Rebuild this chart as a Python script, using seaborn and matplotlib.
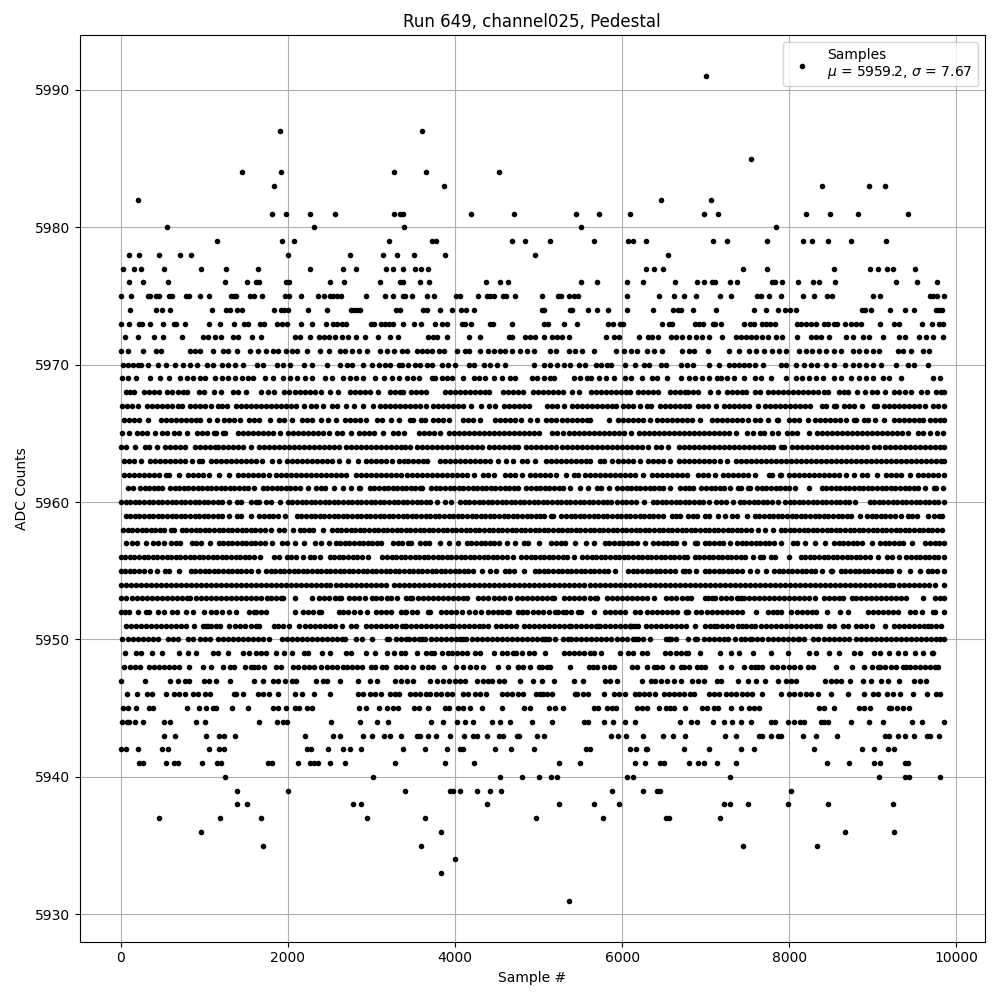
import matplotlib
matplotlib.use("Agg")
import matplotlib.pyplot as plt
import pandas as pd
import seaborn as sb

# sample positions per ADC level.
# in the solid rows single dots cant be told apart, those are estimates

adc_5991 = [7000]
adc_5987 = [1904, 3608]
adc_5985 = [7538]
adc_5984 = [1448, 1916, 3272, 3656, 4532]
adc_5983 = [1832, 3872, 8388, 8950, 9142]
adc_5982 = [212, 6460, 7060]
adc_5981 = [1808, 1976, 2264, 2564, 3272, 3344, 3380, 4196, 4712, 5443, 5718, 6090, 6975, 7143, 8196, 8483, 8818, 9417]
adc_5980 = [560, 2312, 3392, 5503, 7837]
adc_5979 = [1148, 1928, 2072, 3212, 3728, 3776, 4688, 4844, 5132, 5658, 6065, 6125, 6281, 7083, 7250, 7729, 8160, 8268, 8459, 8735, 9153]
adc_5978 = [104, 224, 464, 704, 836, 2000, 2744, 3140, 3308, 3512, 3884, 4952, 6544]
adc_5977 = [32, 164, 248, 524, 956, 1256, 1640, 2264, 2660, 2816, 3176, 3260, 3380, 3524, 3596, 3680, 6281, 6377, 6484, 7442, 7729, 8531, 8962, 9058, 9166, 9237, 9501]
adc_5976 = [104, 272, 572, 1244, 1508, 1616, 1652, 1976, 2012, 2504, 2672, 3104, 3344, 3380, 3584, 3692, 4376, 4544, 4640, 5504, 5696, 6056, 6248, 6632, 6896, 6980, 7076, 7112, 7292, 7376, 7796, 7832, 7916, 8108, 8288, 8360, 8552, 9272, 9524, 9764]
adc_5975 = [0, 128, 332, 356, 428, 464, 584, 620, 776, 812, 944, 1052, 1316, 1352, 1376, 1544, 1592, 1688, 1964, 2012, 2156, 2360, 2432, 2504, 2540, 2588, 2636, 2936, 3164, 3260, 3380, 3404, 3488, 3668, 3752, 4016, 4064, 4280, 4388, 4424, 4472, 4580, 4616, 4724, 5040, 5228, 5264, 5360, 5420, 5468, 6056, 6440, 6620, 6740, 6880, 7172, 7304, 7616, 7664, 7760, 7904, 8168, 8300, 8456, 8516, 9008, 9092, 9680, 9716, 9764, 9850]
adc_5974 = [116, 428, 500, 596, 1088, 1256, 1304, 1388, 1448, 1832, 1916, 1952, 2000, 2240, 2468, 2756, 2792, 2828, 2864, 3296, 3344, 3620, 3668, 3824, 3968, 4076, 4136, 4232, 5040, 5060, 5372, 5396, 5588, 5696, 5828, 6056, 6368, 6608, 6668, 6704, 6848, 7124, 7580, 7724, 7868, 7952, 8012, 8084, 8876, 8912, 8984, 9200, 9380, 9488, 9752, 9788, 9824]
adc_5973 = [8, 104, 224, 260, 356, 512, 632, 660, 764, 1052, 1184, 1352, 1472, 1520, 1664, 1712, 1868, 1928, 1988, 2156, 2288, 2456, 2540, 2588, 2648, 2696, 3000, 3032, 3116, 3164, 3212, 3260, 3380, 3512, 3596, 3764, 3848, 3908, 4088, 4124, 4196, 4424, 4460, 4688, 5060, 5108, 5300, 5456, 5828, 5888, 5972, 6008, 6476, 6560, 6596, 6872, 6920, 6968, 7088, 7112, 7184, 7460, 7532, 7580, 7676, 7724, 7772, 7832, 8096, 8144, 8204, 8264, 8324, 8420, 8468, 8540, 8576, 8672, 8744, 8804, 8864, 9092, 9248, 9308, 9584, 9704, 9788, 9836]
adc_5972 = [56, 208, 396, 508, 736, 988, 1048, 1128, 1200, 1348, 1408, 1568, 1676, 2080, 2148, 2260, 2368, 2428, 2488, 2568, 2648, 2716, 2816, 2920, 3076, 3228, 3316, 3682, 3734, 3790, 3910, 4162, 4294, 4642, 4682, 4842, 4902, 4962, 5062, 5162, 5222, 5282, 5362, 5802, 5902, 5962, 6202, 6310, 6362, 6430, 6582, 6642, 6722, 6797, 6889, 6957, 7037, 7197, 7357, 7417, 7477, 7537, 7597, 7677, 7745, 7837, 7917, 8089, 8257, 8317, 8377, 8477, 8677, 8757, 8877, 8957, 9117, 9317, 9385, 9557, 9637, 9717, 9837]
adc_5971 = [0, 88, 268, 428, 488, 828, 888, 948, 1108, 1228, 1288, 1388, 1548, 1648, 1740, 1828, 1888, 1980, 2048, 2108, 2228, 2388, 2488, 2628, 2688, 2768, 2848, 2948, 3108, 3188, 3268, 3362, 3422, 3542, 3602, 3662, 3722, 3814, 3870, 4022, 4122, 4162, 4302, 4390, 4462, 4542, 4602, 4682, 4782, 4862, 4942, 5142, 5214, 5362, 5442, 5522, 5662, 5922, 6022, 6102, 6182, 6294, 6382, 6482, 6722, 6797, 6857, 7025, 7277, 7397, 7517, 7597, 7697, 7797, 7877, 7957, 8117, 8197, 8277, 8357, 8437, 8537, 8617, 8757, 8837, 8917, 8997, 9077, 9297, 9357, 9457, 9597, 9677]
adc_5970 = [28, 88, 148, 208, 248, 328, 448, 548, 648, 748, 828, 908, 1028, 1108, 1208, 1288, 1368, 1468, 1628, 1708, 1868, 1948, 2028, 2188, 2288, 2468, 2628, 2708, 2768, 2896, 3008, 3088, 3168, 3228, 3328, 3362, 3442, 3522, 3582, 3662, 3722, 3842, 3922, 4002, 4162, 4222, 4342, 4422, 4502, 4602, 4942, 5062, 5142, 5222, 5302, 5382, 5482, 5562, 5682, 5742, 5822, 5870, 6030, 6154, 6262, 6322, 6462, 6522, 6710, 6774, 6849, 7037, 7157, 7277, 7337, 7397, 7457, 7517, 7585, 7685, 7897, 7957, 8085, 8177, 8257, 8337, 8437, 8537, 8669, 8757, 8837, 8917, 8997, 9097, 9277, 9417, 9497, 9665]
adc_5969 = [20, 88, 188, 356, 468, 580, 708, 788, 868, 948, 1008, 1128, 1208, 1288, 1368, 1448, 1528, 1588, 1728, 1828, 1948, 2028, 2108, 2208, 2288, 2448, 2528, 2656, 2748, 2820, 2896, 3048, 3148, 3248, 3328, 3422, 3494, 3574, 3722, 3762, 3842, 3902, 3962, 4102, 4222, 4282, 4362, 4462, 4562, 4662, 4722, 4922, 4982, 5070, 5142, 5190, 5422, 5502, 5582, 5622, 5722, 5802, 5902, 6030, 6102, 6242, 6362, 6422, 6542, 6702, 6797, 6877, 6957, 7037, 7137, 7185, 7257, 7337, 7457, 7585, 7657, 7777, 7965, 8077, 8157, 8237, 8317, 8409, 8537, 8617, 8737, 8837, 8917, 8997, 9117, 9197, 9337, 9717, 9809]
adc_5968 = [60, 110, 160, 280, 340, 400, 455, 560, 620, 680, 740, 795, 940, 995, 1120, 1195, 1340, 1400, 1495, 1680, 1760, 1835, 1960, 2020, 2080, 2140, 2200, 2260, 2320, 2395, 2500, 2595, 2740, 2800, 2860, 2920, 2980, 3075, 3220, 3280, 3340, 3375, 3475, 3535, 3595, 3650, 3875, 3935, 3995, 4055, 4115, 4175, 4235, 4295, 4355, 4410, 4575, 4635, 4695, 4755, 4810, 4935, 4995, 5055, 5115, 5175, 5235, 5290, 5395, 5490, 5625, 5685, 5745, 5805, 5865, 5925, 5985, 6045, 6090, 6195, 6255, 6315, 6375, 6430, 6575, 6635, 6695, 6755, 6790, 6850, 6905, 7055, 7145, 7250, 7310, 7370, 7430, 7485, 7590, 7645, 7750, 7810, 7870, 7930, 7990, 8050, 8110, 8170, 8230, 8290, 8350, 8410, 8465, 8590, 8650, 8705, 8810, 8905, 8990, 9050, 9145, 9255, 9315, 9385, 9457, 9575, 9645, 9760, 9820, 9850]
adc_5967 = [20, 80, 140, 205, 320, 380, 440, 500, 560, 620, 680, 735, 830, 890, 950, 1010, 1075, 1170, 1215, 1276, 1380, 1440, 1500, 1560, 1620, 1680, 1740, 1800, 1860, 1920, 1980, 2040, 2100, 2195, 2280, 2340, 2415, 2530, 2590, 2695, 2788, 2900, 3015, 3100, 3160, 3220, 3280, 3340, 3400, 3460, 3520, 3580, 3650, 3735, 3795, 3855, 3915, 3975, 4035, 4095, 4190, 4315, 4410, 4482, 4590, 4650, 4710, 4770, 4830, 4890, 5100, 5160, 5220, 5310, 5405, 5465, 5525, 5585, 5645, 5705, 5765, 5825, 5885, 5930, 6015, 6075, 6135, 6210, 6300, 6350, 6455, 6515, 6575, 6635, 6690, 6750, 6805, 6910, 6970, 7030, 7125, 7220, 7280, 7340, 7400, 7460, 7520, 7625, 7710, 7770, 7830, 7890, 7950, 8010, 8070, 8130, 8190, 8245, 8390, 8445, 8535, 8565, 8660, 8720, 8780, 8875, 9010, 9045, 9130, 9190, 9250, 9310, 9370, 9430, 9490, 9550, 9625, 9720, 9780, 9850]
adc_5966 = [40, 100, 160, 220, 325, 480, 540, 600, 660, 720, 780, 840, 900, 955, 1060, 1150, 1240, 1300, 1360, 1430, 1530, 1590, 1655, 1788, 1890, 1950, 2055, 2170, 2230, 2290, 2395, 2480, 2575, 2680, 2740, 2800, 2860, 2935, 3070, 3130, 3235, 3330, 3460, 3500, 3595, 3640, 3735, 3795, 3855, 3930, 4095, 4155, 4215, 4300, 4475, 4535, 4595, 4655, 4715, 4790, 4895, 4980, 5095, 5155, 5215, 5275, 5335, 5395, 5455, 5515, 5575, 5620, 5840, 5955, 6015, 6075, 6135, 6195, 6250, 6334, 6420, 6480, 6540, 6600, 6660, 6720, 6780, 6840, 6935, 7070, 7130, 7190, 7250, 7310, 7370, 7430, 7505, 7590, 7650, 7745, 7850, 7865, 8000, 8060, 8120, 8225, 8310, 8370, 8430, 8490, 8550, 8610, 8685, 8770, 8800, 8890, 8945, 9030, 9135, 9250, 9310, 9370, 9430, 9490, 9550, 9605, 9690, 9750, 9810, 9850]
adc_5965 = [10, 95, 200, 260, 320, 405, 500, 550, 640, 700, 795, 910, 970, 1035, 1120, 1135, 1220, 1250, 1400, 1460, 1520, 1580, 1640, 1700, 1760, 1820, 1905, 2000, 2060, 2120, 2180, 2240, 2300, 2360, 2420, 2495, 2590, 2650, 2755, 2850, 2910, 2970, 3030, 3135, 3260, 3320, 3385, 3575, 3635, 3695, 3755, 3820, 3925, 3985, 4045, 4105, 4165, 4225, 4285, 4345, 4405, 4465, 4525, 4585, 4645, 4705, 4765, 4825, 4885, 4945, 5010, 5165, 5225, 5290, 5365, 5425, 5485, 5545, 5605, 5665, 5725, 5785, 5845, 5905, 5965, 6025, 6110, 6205, 6265, 6325, 6385, 6445, 6505, 6565, 6625, 6685, 6745, 6805, 6865, 6925, 6985, 7045, 7105, 7165, 7225, 7285, 7365, 7500, 7565, 7650, 7695, 7790, 7865, 7970, 8030, 8090, 8235, 8330, 8390, 8450, 8510, 8570, 8630, 8690, 8750, 8810, 8870, 8930, 8990, 9050, 9110, 9170, 9230, 9290, 9350, 9425, 9540, 9600, 9685, 9765, 9840]
adc_5964 = [0, 60, 175, 285, 340, 436, 530, 590, 650, 710, 770, 885, 945, 1005, 1065, 1125, 1160, 1220, 1280, 1340, 1400, 1460, 1565, 1650, 1710, 1770, 1830, 1890, 1950, 2010, 2070, 2130, 2190, 2250, 2310, 2370, 2430, 2490, 2550, 2610, 2700, 2760, 2820, 2880, 2940, 3000, 3060, 3120, 3180, 3240, 3300, 3360, 3400, 3460, 3540, 3600, 3660, 3720, 3780, 3840, 3900, 3960, 4020, 4080, 4140, 4200, 4260, 4320, 4405, 4465, 4525, 4585, 4645, 4705, 4760, 4855, 4915, 4975, 5035, 5095, 5155, 5215, 5275, 5335, 5395, 5455, 5515, 5575, 5635, 5695, 5755, 5815, 5875, 5935, 5995, 6055, 6115, 6175, 6235, 6310, 6405, 6460, 6550, 6675, 6735, 6795, 6855, 6915, 6975, 7035, 7095, 7155, 7215, 7275, 7335, 7395, 7455, 7515, 7575, 7635, 7695, 7755, 7805, 7900, 7935, 8030, 8090, 8150, 8210, 8270, 8330, 8390, 8450, 8510, 8570, 8630, 8690, 8750, 8810, 8870, 8925, 9020, 9080, 9140, 9200, 9260, 9320, 9380, 9440, 9500, 9560, 9620, 9680, 9740, 9800, 9850]
adc_5963 = [40, 100, 160, 245, 350, 410, 470, 530, 590, 650, 710, 770, 855, 940, 975, 1080, 1140, 1200, 1260, 1320, 1380, 1440, 1500, 1560, 1620, 1695, 1810, 1895, 1990, 2050, 2110, 2170, 2230, 2290, 2350, 2410, 2470, 2530, 2615, 2716, 2836, 2940, 3000, 3060, 3120, 3180, 3245, 3330, 3390, 3435, 3495, 3555, 3615, 3670, 3820, 3880, 3940, 4000, 4060, 4120, 4180, 4240, 4300, 4360, 4420, 4510, 4615, 4690, 4805, 4865, 4960, 5085, 5145, 5205, 5265, 5325, 5385, 5445, 5505, 5565, 5620, 5735, 5780, 5885, 5945, 6005, 6065, 6125, 6210, 6315, 6375, 6435, 6495, 6570, 6675, 6735, 6795, 6855, 6915, 6975, 7035, 7095, 7170, 7257, 7360, 7420, 7480, 7540, 7600, 7660, 7720, 7780, 7840, 7900, 7960, 8020, 8080, 8140, 8200, 8260, 8320, 8380, 8440, 8500, 8560, 8620, 8680, 8740, 8800, 8860, 8920, 8980, 9040, 9100, 9160, 9220, 9280, 9340, 9400, 9460, 9520, 9580, 9640, 9700, 9760, 9820, 9850]
adc_5962 = [40, 100, 160, 220, 280, 340, 400, 455, 540, 575, 700, 800, 860, 920, 980, 1055, 1180, 1295, 1400, 1460, 1520, 1580, 1640, 1700, 1775, 1860, 1920, 1980, 2040, 2100, 2160, 2220, 2280, 2340, 2400, 2460, 2520, 2580, 2640, 2695, 2810, 2870, 2930, 2990, 3050, 3110, 3170, 3230, 3290, 3355, 3430, 3490, 3550, 3610, 3670, 3730, 3790, 3850, 3910, 3970, 4030, 4090, 4150, 4230, 4335, 4395, 4470, 4595, 4655, 4715, 4800, 4895, 4955, 5015, 5075, 5135, 5210, 5330, 5425, 5470, 5555, 5615, 5675, 5735, 5795, 5855, 5915, 5975, 6035, 6095, 6155, 6250, 6355, 6415, 6475, 6535, 6595, 6655, 6715, 6775, 6910, 6970, 7030, 7110, 7210, 7270, 7330, 7390, 7450, 7510, 7590, 7760, 7795, 7890, 7905, 8000, 8060, 8120, 8180, 8240, 8300, 8360, 8420, 8480, 8540, 8600, 8685, 8775, 8870, 8930, 9055, 9160, 9220, 9280, 9340, 9445, 9540, 9600, 9660, 9720, 9780, 9850]
adc_5961 = [88, 148, 228, 285, 340, 395, 450, 496, 588, 645, 700, 755, 810, 865, 920, 975, 1030, 1085, 1140, 1195, 1250, 1305, 1360, 1415, 1470, 1525, 1596, 1700, 1755, 1810, 1865, 1920, 1975, 2030, 2085, 2140, 2236, 2340, 2395, 2450, 2556, 2660, 2756, 2852, 2868, 2980, 3035, 3090, 3145, 3200, 3255, 3310, 3365, 3416, 3470, 3525, 3580, 3610, 3714, 3770, 3825, 3880, 3935, 3990, 4045, 4100, 4155, 4210, 4265, 4320, 4375, 4430, 4485, 4540, 4595, 4650, 4705, 4750, 4854, 4910, 4965, 5020, 5075, 5130, 5185, 5240, 5295, 5382, 5494, 5590, 5694, 5750, 5838, 5942, 6000, 6055, 6110, 6165, 6220, 6275, 6330, 6385, 6440, 6495, 6570, 6694, 6750, 6805, 6845, 6949, 7005, 7060, 7115, 7170, 7225, 7297, 7389, 7425, 7509, 7525, 7617, 7672, 7727, 7782, 7837, 7892, 7947, 8002, 8065, 8241, 8389, 8445, 8500, 8555, 8610, 8665, 8720, 8775, 8830, 8885, 8940, 8995, 9050, 9105, 9160, 9215, 9270, 9325, 9380, 9435, 9490, 9545, 9625, 9737, 9753, 9841]
adc_5960 = [0, 60, 115, 170, 225, 280, 335, 390, 445, 500, 555, 610, 665, 720, 775, 830, 885, 940, 995, 1050, 1105, 1160, 1215, 1296, 1388, 1445, 1556, 1620, 1656, 1740, 1796, 1908, 2000, 2055, 2110, 2165, 2220, 2275, 2330, 2385, 2440, 2495, 2550, 2605, 2660, 2715, 2770, 2825, 2880, 2935, 2990, 3045, 3100, 3155, 3210, 3265, 3320, 3375, 3430, 3485, 3540, 3595, 3650, 3705, 3782, 3886, 3958, 4062, 4117, 4172, 4227, 4282, 4337, 4392, 4447, 4502, 4557, 4612, 4667, 4722, 4777, 4832, 4887, 4942, 4997, 5052, 5107, 5162, 5217, 5272, 5327, 5382, 5437, 5492, 5547, 5602, 5657, 5712, 5767, 5822, 5862, 5942, 5997, 6052, 6107, 6162, 6262, 6366, 6421, 6476, 6531, 6586, 6641, 6696, 6751, 6806, 6861, 6916, 6971, 7045, 7129, 7184, 7239, 7325, 7409, 7464, 7519, 7574, 7629, 7684, 7739, 7794, 7865, 7949, 8004, 8059, 8114, 8169, 8224, 8279, 8334, 8389, 8444, 8499, 8554, 8609, 8664, 8719, 8785, 8961, 9016, 9071, 9126, 9181, 9236, 9291, 9346, 9401, 9456, 9511, 9566, 9621, 9676, 9731, 9786, 9850]
adc_5959 = [60, 115, 170, 225, 280, 335, 390, 445, 500, 555, 610, 665, 720, 775, 830, 885, 940, 995, 1050, 1105, 1160, 1215, 1296, 1388, 1445, 1556, 1660, 1715, 1770, 1825, 1880, 1968, 2108, 2163, 2218, 2273, 2328, 2383, 2438, 2493, 2548, 2603, 2658, 2713, 2768, 2823, 2878, 2933, 2988, 3043, 3098, 3153, 3208, 3263, 3318, 3373, 3428, 3483, 3538, 3593, 3648, 3703, 3758, 3813, 3868, 3923, 3978, 4033, 4088, 4143, 4198, 4253, 4308, 4363, 4418, 4473, 4528, 4583, 4638, 4693, 4748, 4803, 4858, 4913, 4968, 5023, 5070, 5154, 5170, 5274, 5329, 5384, 5439, 5494, 5549, 5604, 5659, 5714, 5769, 5824, 5879, 5934, 5989, 6044, 6099, 6154, 6209, 6264, 6319, 6374, 6429, 6490, 6594, 6650, 6697, 6789, 6845, 6897, 6989, 7045, 7145, 7233, 7321, 7377, 7497, 7589, 7644, 7699, 7754, 7809, 7864, 7919, 7974, 8029, 8084, 8139, 8194, 8249, 8304, 8359, 8414, 8469, 8524, 8579, 8634, 8689, 8744, 8845, 8929, 8985, 9040, 9095, 9150, 9205, 9260, 9337, 9417, 9472, 9527, 9657, 9737, 9792, 9833]
adc_5958 = [30, 85, 140, 195, 250, 305, 360, 415, 470, 524, 600, 636, 732, 787, 842, 897, 952, 1007, 1062, 1117, 1172, 1227, 1282, 1337, 1392, 1447, 1502, 1557, 1612, 1667, 1722, 1804, 1900, 1955, 2056, 2140, 2195, 2250, 2305, 2416, 2532, 2587, 2642, 2697, 2752, 2807, 2862, 2917, 2972, 3027, 3082, 3137, 3192, 3247, 3302, 3357, 3412, 3467, 3522, 3577, 3632, 3687, 3742, 3797, 3852, 3907, 3962, 4017, 4072, 4127, 4182, 4237, 4292, 4347, 4402, 4457, 4512, 4567, 4622, 4677, 4732, 4787, 4842, 4897, 4952, 5007, 5062, 5117, 5172, 5227, 5282, 5337, 5392, 5447, 5502, 5557, 5612, 5667, 5722, 5777, 5832, 5887, 5942, 5997, 6052, 6107, 6162, 6217, 6272, 6327, 6382, 6437, 6492, 6547, 6602, 6657, 6712, 6767, 6822, 6877, 6932, 6987, 7042, 7097, 7152, 7207, 7262, 7317, 7372, 7427, 7482, 7537, 7625, 7709, 7805, 7897, 7952, 8007, 8062, 8117, 8172, 8227, 8282, 8337, 8392, 8447, 8502, 8557, 8612, 8667, 8722, 8777, 8832, 8887, 8942, 8997, 9052, 9107, 9162, 9217, 9272, 9327, 9382, 9437, 9492, 9547, 9602, 9657, 9712, 9767, 9825]
adc_5957 = [68, 140, 195, 308, 388, 443, 516, 600, 656, 708, 852, 907, 962, 1068, 1172, 1227, 1282, 1337, 1392, 1447, 1502, 1557, 1612, 1667, 1722, 1816, 1932, 1996, 2088, 2196, 2320, 2396, 2488, 2572, 2627, 2682, 2737, 2792, 2847, 2902, 2957, 3012, 3067, 3116, 3260, 3315, 3370, 3436, 3478, 3582, 3637, 3692, 3822, 3926, 4038, 4142, 4197, 4252, 4307, 4362, 4417, 4472, 4527, 4622, 4714, 4822, 4877, 5010, 5154, 5209, 5264, 5319, 5442, 5566, 5662, 5794, 5849, 5904, 5959, 6014, 6069, 6124, 6179, 6270, 6374, 6429, 6484, 6539, 6594, 6649, 6742, 6869, 6897, 6989, 7044, 7099, 7154, 7209, 7297, 7377, 7432, 7487, 7542, 7597, 7652, 7707, 7762, 7817, 7897, 8041, 8096, 8193, 8309, 8433, 8537, 8592, 8647, 8702, 8757, 8812, 8867, 8985, 9089, 9144, 9199, 9254, 9309, 9365, 9465, 9629, 9684, 9739, 9794, 9850]
adc_5956 = [0, 55, 110, 165, 220, 275, 330, 385, 440, 495, 550, 605, 660, 715, 770, 825, 880, 935, 990, 1045, 1100, 1155, 1210, 1265, 1320, 1375, 1430, 1485, 1540, 1595, 1668, 1832, 1896, 1988, 2043, 2098, 2176, 2268, 2308, 2380, 2500, 2555, 2610, 2665, 2720, 2775, 2830, 2885, 2956, 3132, 3187, 3242, 3297, 3352, 3407, 3462, 3517, 3572, 3627, 3682, 3737, 3792, 3847, 3902, 3957, 4012, 4067, 4122, 4177, 4232, 4287, 4342, 4397, 4452, 4507, 4562, 4617, 4690, 4794, 4849, 4904, 4959, 5014, 5069, 5124, 5179, 5234, 5289, 5344, 5430, 5526, 5581, 5636, 5691, 5746, 5801, 5856, 5911, 5966, 6021, 6076, 6131, 6186, 6241, 6296, 6351, 6406, 6461, 6516, 6571, 6626, 6681, 6736, 6780, 6869, 6924, 6979, 7034, 7089, 7144, 7199, 7254, 7309, 7364, 7419, 7474, 7565, 7649, 7685, 7777, 7832, 7997, 8137, 8192, 8247, 8302, 8357, 8412, 8467, 8522, 8577, 8632, 8687, 8742, 8797, 8852, 8907, 8962, 9065, 9169, 9224, 9313, 9401, 9456, 9511, 9566, 9621, 9676, 9731, 9786, 9850]
adc_5955 = [0, 55, 110, 165, 220, 275, 356, 440, 528, 583, 696, 840, 895, 950, 1005, 1060, 1115, 1170, 1225, 1280, 1335, 1390, 1445, 1500, 1555, 1644, 1740, 1795, 1850, 1905, 1960, 2015, 2070, 2125, 2180, 2235, 2290, 2345, 2400, 2455, 2510, 2565, 2620, 2675, 2730, 2785, 2840, 2895, 2950, 3005, 3060, 3115, 3170, 3225, 3280, 3335, 3390, 3445, 3500, 3555, 3610, 3665, 3720, 3775, 3830, 3885, 3940, 3995, 4050, 4105, 4160, 4215, 4318, 4422, 4490, 4594, 4649, 4704, 4830, 4954, 5009, 5064, 5119, 5174, 5229, 5284, 5339, 5394, 5449, 5504, 5559, 5614, 5669, 5724, 5779, 5834, 5910, 6074, 6129, 6184, 6239, 6294, 6349, 6404, 6459, 6514, 6569, 6630, 6726, 6750, 6805, 6885, 6989, 7044, 7099, 7154, 7209, 7264, 7319, 7374, 7429, 7525, 7617, 7725, 7817, 7872, 7927, 7982, 8037, 8092, 8147, 8202, 8257, 8312, 8393, 8497, 8513, 8617, 8672, 8727, 8782, 8837, 8892, 8947, 9002, 9057, 9112, 9167, 9222, 9313, 9441, 9565, 9657, 9712, 9767, 9850]
adc_5954 = [0, 60, 120, 180, 240, 300, 360, 420, 480, 540, 600, 660, 720, 780, 840, 900, 960, 1020, 1080, 1140, 1200, 1260, 1320, 1380, 1440, 1500, 1560, 1620, 1680, 1740, 1800, 1860, 1920, 1980, 2040, 2100, 2160, 2220, 2280, 2340, 2400, 2460, 2510, 2580, 2640, 2700, 2760, 2820, 2880, 2940, 3000, 3060, 3120, 3180, 3270, 3330, 3390, 3450, 3510, 3570, 3630, 3690, 3750, 3810, 3870, 3930, 3990, 4050, 4110, 4170, 4230, 4290, 4350, 4410, 4470, 4530, 4590, 4650, 4710, 4770, 4830, 4890, 4950, 5010, 5070, 5130, 5190, 5250, 5310, 5370, 5430, 5490, 5550, 5610, 5670, 5730, 5790, 5850, 5910, 5970, 6030, 6090, 6150, 6210, 6270, 6330, 6390, 6450, 6510, 6570, 6630, 6690, 6750, 6810, 6870, 6930, 6990, 7050, 7110, 7170, 7230, 7290, 7350, 7410, 7470, 7530, 7590, 7650, 7710, 7770, 7830, 7890, 7950, 8010, 8070, 8130, 8190, 8250, 8310, 8370, 8430, 8490, 8550, 8610, 8670, 8730, 8790, 8850, 8910, 8970, 9030, 9090, 9150, 9210, 9240, 9310, 9370, 9430, 9490, 9550, 9610, 9670, 9740, 9850]
adc_5953 = [0, 68, 140, 196, 250, 310, 370, 430, 490, 550, 610, 670, 730, 790, 830, 900, 960, 1020, 1080, 1140, 1200, 1260, 1320, 1380, 1440, 1500, 1560, 1620, 1680, 1750, 1795, 1860, 1920, 1940, 2090, 2290, 2370, 2430, 2490, 2560, 2610, 2640, 2730, 2790, 2850, 2920, 3010, 3050, 3120, 3190, 3240, 3310, 3420, 3460, 3490, 3560, 3620, 3680, 3740, 3800, 3860, 3920, 3980, 4040, 4100, 4150, 4280, 4340, 4400, 4470, 4530, 4590, 4660, 4740, 4800, 4860, 4920, 4980, 5040, 5100, 5160, 5190, 5310, 5370, 5430, 5490, 5550, 5610, 5670, 5700, 5820, 5880, 5940, 6000, 6060, 6120, 6180, 6240, 6300, 6380, 6530, 6590, 6650, 6720, 6780, 6830, 6990, 7030, 7080, 7110, 7180, 7240, 7300, 7370, 7390, 7420, 7460, 7520, 7580, 7640, 7700, 7760, 7820, 7880, 7940, 8000, 8060, 8120, 8180, 8240, 8310, 8410, 8470, 8530, 8590, 8640, 8750, 8800, 8860, 8920, 8980, 9040, 9100, 9160, 9220, 9280, 9340, 9400, 9600, 9740, 9800, 9850]
adc_5952 = [0, 50, 100, 210, 300, 340, 450, 520, 610, 670, 780, 860, 1000, 1080, 1140, 1210, 1300, 1380, 1540, 1590, 1620, 1680, 1740, 2080, 2180, 2240, 2300, 2370, 2400, 2610, 2660, 2720, 2790, 2860, 2950, 3050, 3110, 3170, 3240, 3350, 3400, 3420, 3480, 3540, 3700, 3672, 3830, 3890, 3950, 4010, 4080, 4170, 4240, 4310, 4400, 4450, 4510, 4560, 4620, 4650, 4750, 4800, 4820, 4860, 4930, 4990, 5050, 5120, 5200, 5230, 5290, 5330, 5390, 5470, 5510, 5660, 5790, 5860, 5920, 5980, 6040, 6150, 6210, 6300, 6360, 6420, 6480, 6540, 6600, 6660, 6770, 6760, 6790, 6890, 6950, 7010, 7070, 7130, 7190, 7250, 7310, 7370, 7440, 7600, 7740, 7800, 7850, 7900, 8020, 8090, 8150, 8210, 8270, 8320, 8450, 8610, 8700, 8940, 9000, 9060, 9120, 9180, 9240, 9300, 9450, 9510, 9590, 9720, 9750, 9850]
adc_5951 = [60, 120, 180, 240, 300, 360, 420, 480, 540, 600, 660, 720, 780, 880, 980, 1020, 1040, 1080, 1140, 1190, 1300, 1370, 1430, 1490, 1560, 1620, 1660, 1830, 1880, 1940, 2020, 2130, 2210, 2270, 2330, 2390, 2450, 2510, 2570, 2650, 2750, 2820, 2930, 2990, 3050, 3110, 3170, 3230, 3290, 3370, 3400, 3420, 3470, 3530, 3590, 3650, 3710, 3770, 3830, 3890, 3950, 3990, 4050, 4110, 4170, 4230, 4290, 4340, 4400, 4490, 4550, 4610, 4670, 4730, 4830, 4880, 4950, 5010, 5070, 5130, 5190, 5250, 5310, 5360, 5390, 5450, 5510, 5570, 5630, 5690, 5710, 5740, 5790, 5850, 5910, 5970, 6030, 6090, 6100, 6150, 6120, 6190, 6280, 6350, 6410, 6470, 6530, 6590, 6650, 6710, 6770, 6870, 6990, 7050, 7100, 7140, 7200, 7260, 7320, 7390, 7435, 7480, 7540, 7590, 7660, 7720, 7780, 7840, 7900, 7960, 8020, 8080, 8140, 8200, 8260, 8320, 8370, 8470, 8530, 8640, 8700, 8800, 8860, 8920, 8990, 9140, 9250, 9310, 9370, 9430, 9490, 9550, 9610, 9660, 9700, 9760, 9820]
adc_5950 = [10, 90, 150, 210, 270, 330, 390, 450, 570, 630, 690, 810, 870, 950, 1010, 1070, 1160, 1220, 1280, 1340, 1400, 1460, 1520, 1580, 1640, 1700, 1770, 1930, 1990, 2050, 2110, 2170, 2230, 2290, 2350, 2410, 2470, 2530, 2590, 2650, 2690, 2810, 2890, 3010, 3190, 3210, 3290, 3350, 3420, 3450, 3510, 3570, 3610, 3640, 3710, 3770, 3830, 3890, 3950, 4010, 4060, 4100, 4130, 4200, 4260, 4320, 4380, 4440, 4500, 4560, 4620, 4680, 4740, 4800, 4860, 4920, 4980, 5040, 5065, 5090, 5130, 5200, 5295, 5350, 5390, 5450, 5510, 5570, 5630, 5690, 5750, 5810, 5870, 5940, 6000, 6060, 6130, 6160, 6190, 6250, 6330, 6520, 6560, 6590, 6650, 6560, 6790, 6870, 6900, 6980, 7040, 7100, 7160, 7220, 7270, 7350, 7420, 7470, 7560, 7620, 7680, 7530, 7740, 7800, 7860, 7920, 7980, 8040, 8100, 8120, 8180, 8280, 8350, 8410, 8470, 8530, 8590, 8650, 8710, 8800, 8860, 8920, 8980, 9040, 9100, 9160, 9220, 9280, 9340, 9400, 9460, 9520, 9580, 9640, 9700, 9760, 9800, 9850]
adc_5949 = [50, 180, 240, 370, 490, 700, 800, 900, 1110, 1160, 1280, 1460, 1530, 1620, 1680, 1740, 1860, 1960, 2048, 2190, 2240, 2410, 2510, 2700, 2760, 2930, 3040, 3190, 3270, 3350, 3405, 3550, 3654, 3710, 3745, 3850, 3920, 3970, 4030, 4085, 4150, 4240, 4300, 4470, 4560, 4620, 4695, 4730, 4800, 4880, 4950, 5080, 5310, 5370, 5430, 5490, 5540, 5620, 5660, 5750, 5970, 6070, 6130, 6240, 6300, 6510, 6570, 6640, 6700, 6760, 6790, 6930, 7170, 7300, 7400, 7570, 7780, 7990, 8240, 8320, 8480, 8600, 8780, 8850, 9010, 9090, 9190, 9300, 9390, 9500, 9600, 9720, 9710]
adc_5948 = [40, 110, 170, 230, 340, 400, 460, 520, 580, 640, 700, 812, 980, 1080, 1230, 1310, 1360, 1490, 1560, 1600, 1640, 1720, 1860, 1920, 2060, 2120, 2190, 2250, 2310, 2400, 2470, 2530, 2590, 2660, 2710, 2770, 2830, 2890, 2990, 3040, 3130, 3180, 3290, 3360, 3420, 3500, 3600, 3680, 3740, 3870, 4010, 4100, 4180, 4250, 4330, 4510, 4640, 4750, 4760, 4820, 4900, 5000, 5040, 5100, 5140, 5380, 5600, 5650, 5700, 5780, 5860, 5900, 6120, 6180, 6300, 6380, 6420, 6480, 6600, 6700, 6740, 6800, 6900, 6950, 6990, 7180, 7300, 7460, 7540, 7590, 7630, 7680, 7790, 7850, 7920, 8000, 8060, 8130, 8220, 8280, 8560, 8750, 8900, 8990, 9060, 9090, 9150, 9220, 9280, 9360, 9400, 9450, 9510, 9570, 9630, 9690, 9750, 9780]
adc_5947 = [0, 288, 596, 680, 770, 820, 992, 1060, 1140, 1308, 1592, 1700, 1820, 1880, 1968, 2050, 2100, 2340, 2420, 2468, 2628, 2840, 2980, 3064, 3288, 3360, 3432, 3500, 3700, 3780, 3860, 3932, 4000, 4060, 4120, 4260, 4340, 4390, 4440, 4530, 4590, 4780, 4930, 5040, 5180, 5420, 5528, 5800, 5860, 5936, 6240, 6340, 6390, 6460, 6540, 6620, 6700, 6840, 6910, 6980, 7130, 7180, 7388, 7508, 7604, 7712, 7868, 7960, 8020, 8084, 8430, 8500, 8560, 8620, 8732, 8888, 8980, 9100, 9180, 9308, 9490, 9560, 9640]
adc_5946 = [80, 200, 320, 370, 540, 640, 700, 770, 860, 920, 1010, 1070, 1360, 1380, 1460, 1640, 1700, 1770, 1880, 2088, 2168, 2312, 2504, 2840, 2900, 2980, 3040, 3120, 3220, 3280, 3330, 3460, 3520, 3580, 3650, 3700, 3770, 3830, 3900, 3960, 4100, 4160, 4240, 4300, 4370, 4568, 4620, 4680, 4760, 4820, 4968, 5020, 5050, 5100, 5160, 5440, 5460, 5530, 5590, 5780, 5900, 5960, 6040, 6150, 6200, 6260, 6320, 6390, 6500, 6560, 6620, 6680, 6740, 6810, 6860, 7040, 7100, 7160, 7240, 7300, 7360, 7430, 7500, 7560, 7680, 7900, 7992, 8060, 8130, 8200, 8260, 8340, 8500, 8700, 8900, 9000, 9060, 9170, 9240, 9320, 9480, 9650, 9760, 9800]
adc_5945 = [28, 90, 188, 340, 390, 788, 932, 1020, 1100, 1140, 1332, 1520, 1828, 1880, 1976, 2080, 2130, 2230, 2290, 2852, 2936, 3092, 3188, 3260, 3320, 3510, 3570, 3680, 3880, 3930, 4040, 4100, 4184, 4328, 4560, 4832, 4900, 5130, 5200, 5290, 5660, 5710, 5820, 5880, 5924, 6180, 6240, 6300, 6440, 6520, 6570, 6620, 6756, 6956, 7020, 7100, 7150, 7304, 7424, 7520, 7580, 7640, 8360, 8420, 8540, 8840, 8900, 8972, 9212, 9190, 9284, 9356, 9436]
adc_5944 = [10, 70, 100, 172, 272, 520, 590, 900, 1010, 1650, 1868, 1940, 1988, 2516, 2864, 3068, 3200, 3716, 3860, 4020, 4120, 4220, 4440, 4540, 4660, 4916, 5160, 5540, 5590, 5780, 5888, 6032, 6152, 6692, 6820, 6900, 7088, 7220, 7316, 7428, 7544, 7780, 7832, 7988, 8056, 8132, 8176, 8380, 8420, 8468, 8744, 8960, 9116, 9464, 9584, 9848]
adc_5943 = [524, 644, 1016, 1172, 1232, 1368, 2204, 2540, 2624, 2900, 3012, 3148, 3224, 3356, 3540, 3576, 3680, 3776, 3944, 4112, 4212, 4260, 4388, 4528, 4580, 4740, 4770, 4984, 5068, 5864, 5948, 6044, 6248, 6488, 6608, 6752, 7232, 7364, 7640, 7680, 7780, 7860, 7900, 8168, 8324, 8576, 9140, 9188, 9296, 9380, 9488, 9644, 9690, 9788]
adc_5942 = [8, 60, 212, 500, 572, 1052, 1172, 1232, 2228, 2276, 2476, 2660, 2740, 2876, 3380, 3644, 3908, 4060, 4100, 4484, 4676, 4940, 5568, 5616, 6092, 6164, 6284, 6300, 6740, 7040, 7424, 7580, 8300, 8876, 9020, 9176, 9248]
adc_5941 = [220, 268, 548, 632, 680, 968, 1156, 1204, 1760, 1808, 2120, 2260, 2310, 2360, 2504, 2684, 3284, 3884, 4232, 5240, 5492, 6152, 6272, 6452, 6500, 6800, 6908, 6980, 7136, 7364, 8456, 8720, 9020, 9092, 9380, 9420]
adc_5940 = [1244, 3020, 4544, 4808, 5000, 5144, 5216, 6056, 6128, 7292, 9080, 9380, 9428, 9800]
adc_5939 = [1388, 2000, 3404, 3944, 3980, 4064, 4268, 4424, 4556, 5876, 6248, 6416, 6452, 8024]
adc_5938 = [1388, 1508, 2780, 2876, 4388, 5240, 5660, 5960, 7220, 7292, 7508, 7988, 8468, 9236]
adc_5937 = [464, 1184, 1676, 2948, 3644, 4964, 5768, 6524, 6560, 7172]
adc_5936 = [956, 3836, 8672, 9248]
adc_5935 = [1700, 3596, 7448, 8336]
adc_5934 = [4004]
adc_5933 = [3836]
adc_5931 = [5360]

levels = {5991: adc_5991, 5987: adc_5987, 5985: adc_5985, 5984: adc_5984, 5983: adc_5983,
          5982: adc_5982, 5981: adc_5981, 5980: adc_5980, 5979: adc_5979, 5978: adc_5978,
          5977: adc_5977, 5976: adc_5976, 5975: adc_5975, 5974: adc_5974, 5973: adc_5973,
          5972: adc_5972, 5971: adc_5971, 5970: adc_5970, 5969: adc_5969, 5968: adc_5968,
          5967: adc_5967, 5966: adc_5966, 5965: adc_5965, 5964: adc_5964, 5963: adc_5963,
          5962: adc_5962, 5961: adc_5961, 5960: adc_5960, 5959: adc_5959, 5958: adc_5958,
          5957: adc_5957, 5956: adc_5956, 5955: adc_5955, 5954: adc_5954, 5953: adc_5953,
          5952: adc_5952, 5951: adc_5951, 5950: adc_5950, 5949: adc_5949, 5948: adc_5948,
          5947: adc_5947, 5946: adc_5946, 5945: adc_5945, 5944: adc_5944, 5943: adc_5943,
          5942: adc_5942, 5941: adc_5941, 5940: adc_5940, 5939: adc_5939, 5938: adc_5938,
          5937: adc_5937, 5936: adc_5936, 5935: adc_5935, 5934: adc_5934, 5933: adc_5933,
          5931: adc_5931}

rows = []
for adc, samples in levels.items():
    for s in samples:
        rows.append((s, adc))
df = pd.DataFrame(rows, columns=["sample", "adc"])

fig, ax = plt.subplots(figsize=(10, 10), dpi=100)
sb.scatterplot(data=df, x="sample", y="adc", ax=ax, marker=".", s=36, color="black",
               edgecolor="black", linewidth=1, zorder=2,
               label="Samples\n$\\mu$ = 5959.2, $\\sigma$ = 7.67")
ax.grid(True)
ax.set_title("Run 649, channel025, Pedestal")
ax.set_xlabel("Sample #")
ax.set_ylabel("ADC Counts")
ax.ticklabel_format(useOffset=False, axis="y")
ax.legend(loc="upper right")
fig.tight_layout()
fig.subplots_adjust(top=0.965)
fig.savefig("out.png", dpi=100)
